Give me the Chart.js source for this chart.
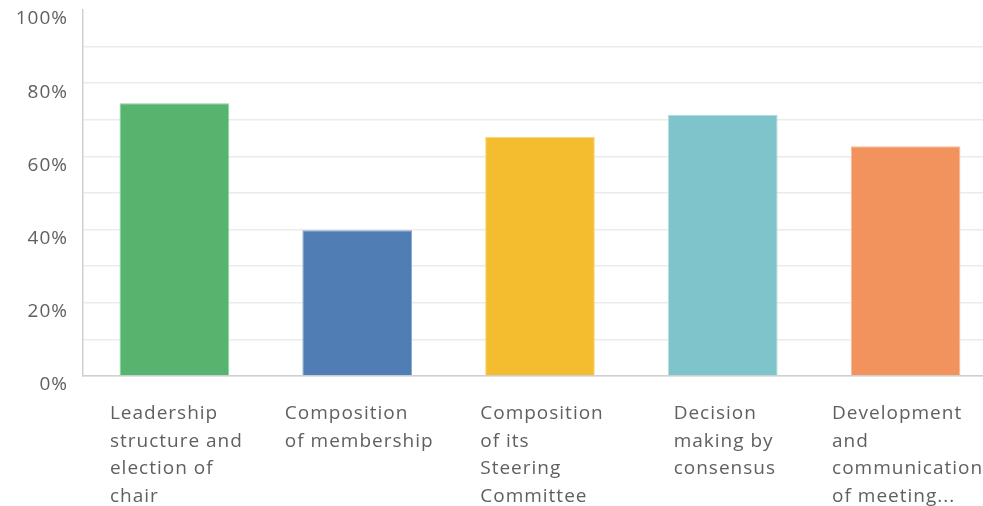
<!DOCTYPE html>
<html>
<head>
  <title>Bar chart</title>
  <script src="https://cdn.jsdelivr.net/npm/chart.js"></script>
  <style>
    html, body { margin: 0; padding: 0; background: #fff; overflow: hidden; }
    #wrap { width: 1000px; height: 506px; }
  </style>
</head>
<body>
  <div id="wrap"><canvas id="chart"></canvas></div>

  <script>
    // Data
    const categories = [
      ['Leadership', 'structure and', 'election of', 'chair'],
      ['Composition', 'of membership'],
      ['Composition', 'of its', 'Steering', 'Committee'],
      ['Decision', 'making by', 'consensus'],
      ['Development', 'and', 'communication', 'of meeting...']
    ];
    const values = [74.5, 39.8, 65.4, 71.4, 62.8];
    const barColors = ['#56b46e', '#517db5', '#f3bd2f', '#7fc4ca', '#f2925c'];
    const barEdges = ['#8fd09f', '#86a6d0', '#f8d784', '#b3dde0', '#f7bb98'];
    const yTicks = [0, 20, 40, 60, 80, 100];

    const FONT = "'Open Sans', Arial, sans-serif";
    const TEXT = '#606060';

    // letter spacing for all text on the canvas
    const spacingPlugin = {
      id: 'spacing',
      beforeDraw(chart) { chart.ctx.letterSpacing = '1px'; }
    };

    // x labels: block centred on the bar, lines left aligned
    const xLabelPlugin = {
      id: 'xLabels',
      afterDraw(chart) {
        const ctx = chart.ctx;
        const x = chart.scales.x;
        const top = chart.chartArea.bottom;
        ctx.save();
        ctx.letterSpacing = '1px';
        ctx.font = '19px ' + FONT;
        ctx.fillStyle = TEXT;
        ctx.textAlign = 'left';
        ctx.textBaseline = 'middle';
        categories.forEach((lines, i) => {
          const c = x.getPixelForTick(i);
          const w = Math.max(...lines.map(l => ctx.measureText(l).width));
          lines.forEach((l, j) => ctx.fillText(l, c - w / 2 + 2, top + 38 + j * 27.5));
        });
        ctx.restore();
      }
    };

    new Chart(document.getElementById('chart'), {
      type: 'bar',
      data: {
        labels: categories.map(c => c.join(' ')),
        datasets: [{
          data: values,
          backgroundColor: barColors,
          borderColor: barEdges,
          borderWidth: 1,
          barPercentage: 0.6,
          categoryPercentage: 1
        }]
      },
      options: {
        responsive: true,
        maintainAspectRatio: false,
        animation: false,
        layout: { padding: { top: 10, bottom: 130, right: 3, left: 0 } },
        plugins: { legend: { display: false }, tooltip: { enabled: false } },
        scales: {
          x: {
            grid: { display: false, drawTicks: false },
            border: { display: true, color: '#d0d0d0', width: 1.5 },
            ticks: { display: false }
          },
          y: {
            min: 0,
            max: 100,
            afterFit(scale) {
              scale.width = 83;
              scale.paddingTop = 0;
              scale.paddingBottom = 0;
            },
            ticks: {
              stepSize: 10,
              padding: 15,
              labelOffset: 9,
              color: TEXT,
              font: { family: FONT, size: 19, lineHeight: 1 },
              callback: v => yTicks.includes(v) ? v + '%' : ''
            },
            grid: {
              drawTicks: false,
              color: ctx => ctx.tick && ctx.tick.value === 100 ? 'rgba(0,0,0,0)' : '#ebebeb',
              lineWidth: 1.5
            },
            border: { display: true, color: '#d0d0d0', width: 1.5 }
          }
        }
      },
      plugins: [spacingPlugin, xLabelPlugin]
    });
  </script>
</body>
</html>
